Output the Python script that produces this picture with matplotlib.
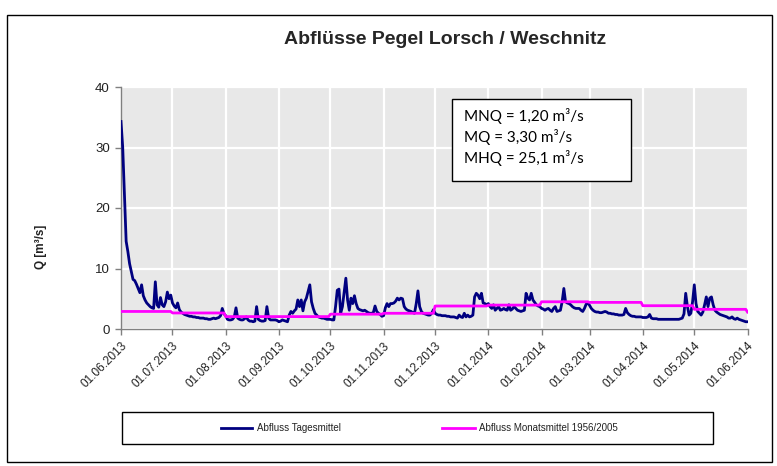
import numpy as np
import pandas as pd
import matplotlib
matplotlib.use("Agg")
import matplotlib.pyplot as plt
from matplotlib.patches import Rectangle
from matplotlib.lines import Line2D

plt.rcParams['font.family'] = ['Liberation Sans', 'DejaVu Sans']

# ---- data (m³/s), daily values 01.06.2013 .. 01.06.2014 ----
jun13 = [34.3, 30.0, 22.0, 14.5, 12.8, 10.8, 9.5, 8.2, 8.0, 7.4,
         6.7, 6.0, 7.3, 5.5, 4.8, 4.3, 4.0, 3.7, 3.5, 3.4,
         7.8, 4.0, 3.6, 5.2, 4.0, 3.7, 4.5, 6.1, 5.0, 5.6]
jul13 = [4.3, 3.8, 3.5, 4.3, 3.2, 2.8, 2.6, 2.4, 2.3, 2.2,
         2.1, 2.1, 2.0, 2.0, 1.9, 1.9, 1.8, 1.8, 1.8, 1.7,
         1.7, 1.6, 1.6, 1.7, 1.8, 1.7, 1.8, 1.9, 2.2, 3.4,
         2.5]
aug13 = [2.2, 1.6, 1.5, 1.5, 1.6, 2.0, 3.5, 1.8, 1.6, 1.5,
         1.5, 1.7, 2.0, 1.5, 1.3, 1.3, 1.2, 1.3, 3.7, 1.6,
         1.4, 1.3, 1.3, 1.4, 3.7, 1.8, 1.5, 1.5, 1.5, 1.5,
         1.4]
sep13 = [1.2, 1.3, 1.5, 1.4, 1.3, 1.2, 2.3, 2.9, 2.6, 3.0,
         3.3, 4.8, 3.7, 4.8, 3.0, 4.5, 5.1, 6.2, 7.3, 4.5,
         3.4, 2.6, 2.3, 2.0, 1.9, 1.8, 1.8, 1.7, 1.6, 1.6]
oct13 = [1.6, 1.5, 1.5, 3.7, 6.4, 6.6, 2.6, 3.7, 6.0, 8.4,
         4.8, 3.1, 5.1, 4.2, 5.5, 4.2, 3.4, 3.2, 3.1, 3.0,
         3.1, 2.9, 2.7, 2.6, 2.6, 2.7, 3.8, 2.9, 2.6, 2.4,
         2.1]
nov13 = [2.2, 3.5, 4.2, 3.7, 4.2, 4.2, 4.3, 4.6, 5.1, 4.8,
         5.1, 5.0, 3.7, 3.3, 3.1, 3.0, 2.9, 2.7, 2.6, 4.2,
         6.3, 3.7, 2.9, 2.6, 2.5, 2.4, 2.3, 2.3, 2.6, 3.2]
dec13 = [2.6, 2.4, 2.3, 2.3, 2.2, 2.2, 2.2, 2.1, 2.1, 2.0,
         2.0, 2.0, 1.9, 1.8, 2.3, 2.0, 1.9, 2.6, 2.0, 2.3,
         2.0, 2.1, 2.3, 5.3, 5.9, 5.6, 5.0, 5.9, 4.3, 4.2,
         4.0]
jan14 = [4.2, 3.7, 3.4, 4.0, 3.1, 3.4, 3.7, 3.1, 3.2, 3.4,
         3.2, 3.1, 4.0, 3.1, 3.3, 3.7, 3.4, 3.1, 3.0, 2.9,
         3.0, 3.1, 5.9, 5.1, 4.8, 5.9, 4.8, 4.4, 4.0, 3.8,
         3.7]
feb14 = [3.4, 3.3, 3.1, 3.3, 3.4, 3.1, 2.9, 3.4, 3.7, 2.9,
         3.0, 3.1, 4.5, 6.7, 4.5, 4.3, 4.2, 4.0, 3.7, 3.5,
         3.4, 3.4, 3.4, 3.1, 2.9, 3.4, 4.1, 4.3]
mar14 = [3.9, 3.4, 3.1, 2.9, 2.8, 2.8, 2.7, 2.7, 2.8, 2.9,
         2.8, 2.6, 2.6, 2.5, 2.5, 2.4, 2.4, 2.3, 2.3, 2.3,
         2.4, 3.4, 2.7, 2.4, 2.2, 2.1, 2.1, 2.0, 2.0, 2.0,
         2.0]
apr14 = [1.9, 1.9, 1.9, 2.0, 2.4, 1.8, 1.7, 1.7, 1.7, 1.6,
         1.6, 1.6, 1.6, 1.6, 1.6, 1.6, 1.6, 1.6, 1.6, 1.6,
         1.6, 1.6, 1.7, 1.8, 2.5, 5.9, 3.7, 2.3, 2.6, 4.5]
may14 = [7.3, 4.2, 2.9, 2.6, 2.3, 2.8, 4.0, 5.3, 3.7, 5.1,
         5.3, 4.0, 3.1, 2.8, 2.6, 2.4, 2.3, 2.2, 2.1, 2.0,
         1.8, 1.8, 2.0, 1.7, 1.6, 1.8, 1.6, 1.5, 1.4, 1.3,
         1.2]
jun14 = [1.2]

# long-term monthly means 1956/2005 (Jun .. May, and Jun again)
monthly_mean = [2.9, 2.65, 2.05, 2.05, 2.45, 2.6, 3.8, 3.95, 4.5, 4.4, 3.85, 3.25, 2.8]

tick_labels = ["01.06.2013", "01.07.2013", "01.08.2013", "01.09.2013", "01.10.2013",
               "01.11.2013", "01.12.2013", "01.01.2014", "01.02.2014", "01.03.2014",
               "01.04.2014", "01.05.2014", "01.06.2014"]

legend_labels = ["Abfluss Tagesmittel", "Abfluss Monatsmittel 1956/2005"]
info_lines = ["MNQ = 1,20 m³/s", "MQ = 3,30 m³/s", "MHQ = 25,1 m³/s"]
title = "Abflüsse Pegel Lorsch / Weschnitz"
ylabel = "Q [m³/s]"

# ---- assemble series ----
daily = np.array(jun13 + jul13 + aug13 + sep13 + oct13 + nov13 + dec13 +
                 jan14 + feb14 + mar14 + apr14 + may14 + jun14)
dates = pd.date_range("2013-06-01", periods=len(daily), freq="D")
month_starts = pd.to_datetime(tick_labels, format="%d.%m.%Y")
month_of_day = np.searchsorted(month_starts.values, dates.values, side="right") - 1
mean_daily = np.array(monthly_mean)[month_of_day]

# ---- figure ----
W, H = 777, 466
fig = plt.figure(figsize=(W / 100, H / 100), dpi=100)
fig.patch.set_facecolor("white")

# outer frame
fig.add_artist(Rectangle((7 / W, 1 - 462 / H), (772 - 7) / W, (462 - 15) / H,
                         transform=fig.transFigure, fill=False, ec="black", lw=1.0))

ax = fig.add_axes([121 / W, 1 - 329 / H, (747.5 - 121) / W, (329 - 87) / H])
ax.set_facecolor("#e8e8e8")
for s in ["top", "right"]:
    ax.spines[s].set_visible(False)
for s in ["left", "bottom"]:
    ax.spines[s].set_color("#808080")
    ax.spines[s].set_linewidth(1.0)

ax.grid(True, color="white", lw=1.6)
ax.set_axisbelow(True)

ax.plot(dates, daily, color="#000080", lw=2.0, zorder=3)
ax.plot(dates, mean_daily, color="#ff00ff", lw=2.0, zorder=4)

ax.set_xlim(month_starts[0], month_starts[-1])
ax.set_ylim(0, 40)
ax.set_yticks([0, 10, 20, 30, 40])
ax.set_xticks(month_starts)
ax.set_xticklabels(tick_labels, rotation=45, ha="right", va="top",
                   rotation_mode="anchor", fontsize=8.5, color="#222222")
ax.tick_params(axis="y", labelsize=9.5, colors="#222222", length=4, width=1,
               direction="out", color="#808080", pad=4)
ax.tick_params(axis="x", length=4, width=1, direction="out", color="#808080", pad=4)

fig.text(445 / W, 1 - 40 / H, title, ha="center", va="center",
         fontsize=14, fontweight="bold", color="#262626")
fig.text(41 / W, 1 - 247 / H, ylabel, ha="center", va="center", rotation=90,
         fontsize=8.5, fontweight="bold", color="#222222")

# info box
fig.add_artist(Rectangle((452 / W, 1 - 181 / H), (631 - 452) / W, (181 - 99) / H,
                         transform=fig.transFigure, fc="white", ec="black", lw=1.0, zorder=5))
for i, line in enumerate(info_lines):
    fig.text(464 / W, 1 - (116 + 21 * i) / H, line, ha="left", va="center",
             fontsize=11, family=["Lato", "DejaVu Sans"], color="black", zorder=6)

# legend
fig.add_artist(Rectangle((122 / W, 1 - 444 / H), (713 - 122) / W, (444 - 412) / H,
                         transform=fig.transFigure, fc="white", ec="black", lw=1.0))
ly = 1 - 428 / H
fig.add_artist(Line2D([221 / W, 252 / W], [ly, ly], transform=fig.transFigure,
                      color="#000080", lw=2.0))
fig.text(257 / W, ly, legend_labels[0], ha="left", va="center", fontsize=7, color="#222222")
fig.add_artist(Line2D([442 / W, 475 / W], [ly, ly], transform=fig.transFigure,
                      color="#ff00ff", lw=2.0))
fig.text(479 / W, ly, legend_labels[1], ha="left", va="center", fontsize=7, color="#222222")

fig.savefig("out.png", dpi=100)
